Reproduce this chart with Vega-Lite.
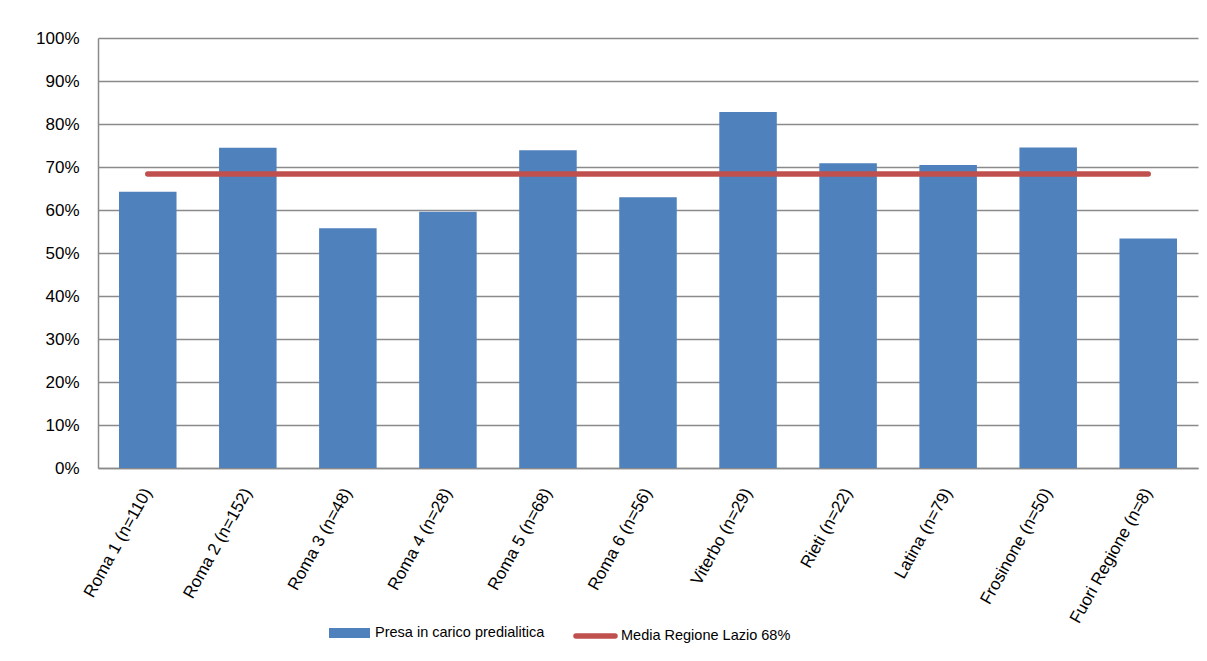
{
  "$schema": "https://vega.github.io/schema/vega-lite/v6.json",
  "width": 1100,
  "height": 430,
  "autosize": {"type": "none"},
  "padding": {"left": 98, "top": 38, "right": 9, "bottom": 193},
  "background": "white",
  "config": {
    "font": "Liberation Sans",
    "view": {"stroke": null},
    "axis": {"labelFont": "Liberation Sans", "labelColor": "#000000", "titleFont": "Liberation Sans"},
    "legend": {"labelFont": "Liberation Sans", "labelColor": "#000000", "labelFontSize": 14.5, "labelLimit": 0, "padding": 0, "symbolOffset": 0, "labelOffset": 5}
  },
  "data": {
    "values": [
      {"cat": "Roma 1 (n=110)", "v": 0.6425, "m": 0.684},
      {"cat": "Roma 2 (n=152)", "v": 0.745, "m": 0.684},
      {"cat": "Roma 3 (n=48)", "v": 0.5575, "m": 0.684},
      {"cat": "Roma 4 (n=28)", "v": 0.596, "m": 0.684},
      {"cat": "Roma 5 (n=68)", "v": 0.739, "m": 0.684},
      {"cat": "Roma 6 (n=56)", "v": 0.6295, "m": 0.684},
      {"cat": "Viterbo (n=29)", "v": 0.828, "m": 0.684},
      {"cat": "Rieti (n=22)", "v": 0.709, "m": 0.684},
      {"cat": "Latina (n=79)", "v": 0.7045, "m": 0.684},
      {"cat": "Frosinone (n=50)", "v": 0.7455, "m": 0.684},
      {"cat": "Fuori Regione (n=8)", "v": 0.534, "m": 0.684}
    ]
  },
  "encoding": {
    "x": {
      "field": "cat",
      "type": "nominal",
      "sort": null,
      "scale": {"paddingInner": 0.425, "paddingOuter": 0.21},
      "axis": {
        "title": null,
        "ticks": false,
        "domain": true,
        "domainColor": "#8a8a8a",
        "domainWidth": 1.5,
        "labelAngle": -61,
        "labelAlign": "right",
        "labelBaseline": "middle",
        "labelPadding": 21,
        "labelFontSize": 17,
        "labelOverlap": false,
        "labelLimit": 0
      }
    }
  },
  "layer": [
    {
      "mark": {"type": "bar"},
      "encoding": {
        "y": {
          "field": "v",
          "type": "quantitative",
          "scale": {"domain": [0, 1], "nice": false},
          "axis": {
            "title": null,
            "format": ".0%",
            "values": [0, 0.1, 0.2, 0.3, 0.4, 0.5, 0.6, 0.7, 0.8, 0.9, 1],
            "ticks": false,
            "grid": true,
            "gridColor": "#8a8a8a",
            "gridWidth": 1.4,
            "domain": true,
            "domainColor": "#8a8a8a",
            "domainWidth": 1.5,
            "labelPadding": 19,
            "labelFontSize": 17
          }
        },
        "fill": {
          "datum": "Presa in carico predialitica",
          "type": "nominal",
          "scale": {"range": ["#4F81BD"]},
          "legend": {
            "title": null,
            "orient": "none",
            "legendX": 231,
            "legendY": 574.5,
            "symbolType": "M-1,-0.244H1V0.244H-1Z",
            "symbolSize": 1681,
            "symbolStrokeWidth": 0,
            "symbolOpacity": 1
          }
        }
      }
    },
    {
      "mark": {"type": "line", "strokeWidth": 5.5, "strokeCap": "round"},
      "encoding": {
        "y": {"field": "m", "type": "quantitative"},
        "stroke": {
          "datum": "Media Regione Lazio 68%",
          "type": "nominal",
          "scale": {"range": ["#C0504D"]},
          "legend": {
            "title": null,
            "orient": "none",
            "legendX": 475,
            "legendY": 575.5,
            "symbolType": "stroke",
            "symbolSize": 1521,
            "symbolStrokeWidth": 5.5,
            "labelOffset": 3,
            "encode": {"symbols": {"update": {"strokeCap": {"value": "round"}}}}
          }
        }
      }
    }
  ]
}
